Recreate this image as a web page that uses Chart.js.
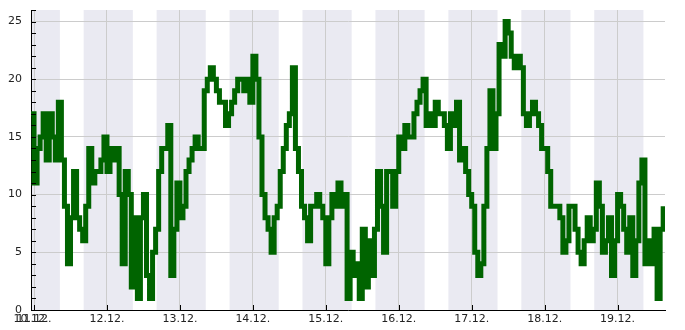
<!DOCTYPE html>
<html lang="en">
<head>
  <meta charset="UTF-8">
  <title>Temperatur</title>
  <script src="https://cdn.jsdelivr.net/npm/chart.js"></script>
  <style>
    html, body { margin: 0; padding: 0; background: #fff; }
  </style>
</head>
<body>
  <canvas id="tempChart" width="685" height="330"></canvas>

  <script>
    // time axis in hours, counted from 10.12. 00:00
    const firstHour = 23;
    const lastHour = 231.6;

    // one reading per hour, from 10.12. 23:00
    const values = [
      17, 11, 14, 15, 17, 13, 17, 15, 13, 18, 13, 9, 4, 8, 12, 8, 7, 6, 9, 14,
      11, 12, 12, 13, 15, 12, 14, 13, 14, 10, 4, 12, 10, 2, 8,
      1, 8, 10, 3, 1, 5, 7, 12, 14, 14, 16, 3, 7, 11, 8, 9, 12, 13, 14, 15,
      14, 14, 19, 20, 21, 20, 19, 18, 18, 16, 17, 18, 19, 20, 20,
      19, 20, 18, 22, 20, 15, 10, 8, 7, 5, 8, 9, 12, 14, 16, 17, 21, 14, 12, 9,
      8, 6, 9, 9, 10, 9, 8, 4, 8, 10, 9, 11, 9, 10,
      1, 5, 3, 4, 1, 7, 2, 6, 3, 7, 12, 9, 5, 12, 12, 9, 12, 15, 14, 16,
      15, 15, 17, 18, 19, 20, 16, 17, 16, 18, 17, 17, 16, 14, 17,
      16, 18, 13, 14, 12, 10, 9, 5, 3, 4, 9, 14, 19, 14, 17, 23, 22, 25, 24, 22,
      21, 22, 21, 17, 16, 17, 18, 17, 16, 14, 14, 12, 9, 9,
      9, 8, 5, 6, 9, 9, 7, 5, 4, 6, 8, 6, 7, 11, 9, 5, 6, 8, 3, 6,
      10, 9, 7, 5, 8, 3, 6, 11, 13, 4, 6, 4, 7, 1, 7, 9
    ];

    const dayTicks = [23, 24, 48, 72, 96, 120, 144, 168, 192, 216];
    const dayLabels = ["10.12.", "11.12.", "12.12.", "13.12.", "14.12.", "15.12.", "16.12.", "17.12.", "18.12.", "19.12."];
    const yTicks = [0, 5, 10, 15, 20, 25];

    // dark hours (about 16:20 to 08:30)
    const nightStarts = [16.33, 40.33, 64.33, 88.33, 112.33, 136.33, 160.33, 184.33, 208.33];
    const nightEnds = [32.5, 56.5, 80.5, 104.5, 128.5, 152.5, 176.5, 200.5, 224.5];

    const points = values.map((v, i) => ({ x: firstHour + i, y: v }));

    const nightBands = {
      id: "nightBands",
      beforeDraw(chart) {
        const { ctx, chartArea: a, scales: { x } } = chart;
        ctx.save();
        ctx.beginPath();
        ctx.rect(a.left, a.top, a.right - a.left, a.bottom - a.top);
        ctx.clip();
        ctx.fillStyle = "#eaeaf2";
        nightStarts.forEach((s, i) => {
          const x1 = x.getPixelForValue(s);
          const x2 = x.getPixelForValue(nightEnds[i]);
          ctx.fillRect(x1, a.top, x2 - x1, a.bottom - a.top);
        });
        ctx.restore();
      }
    };

    // small tick marks pointing into the plot
    const innerTicks = {
      id: "innerTicks",
      afterDraw(chart) {
        const { ctx, chartArea: a, scales: { x, y } } = chart;
        ctx.save();
        ctx.strokeStyle = "#000";
        ctx.lineWidth = 1;
        ctx.beginPath();
        for (let v = 0; v <= 26; v++) {
          const py = Math.round(y.getPixelForValue(v)) + 0.5;
          ctx.moveTo(a.left, py);
          ctx.lineTo(a.left + 5, py);
        }
        dayTicks.forEach(t => {
          const px = Math.round(x.getPixelForValue(t)) + 0.5;
          ctx.moveTo(px, a.bottom);
          ctx.lineTo(px, a.bottom - 5);
        });
        ctx.stroke();
        ctx.restore();
      }
    };

    const font = { family: "DejaVu Sans", size: 11 };

    new Chart(document.getElementById("tempChart"), {
      type: "line",
      data: {
        datasets: [{
          data: points,
          borderColor: "#006400",
          borderWidth: 5,
          stepped: true,
          pointRadius: 0,
          fill: false
        }]
      },
      options: {
        responsive: false,
        animation: false,
        devicePixelRatio: 1,
        layout: { padding: { top: 10, right: 20, left: 0, bottom: 0 } },
        plugins: { legend: { display: false }, tooltip: { enabled: false } },
        scales: {
          x: {
            type: "linear",
            min: firstHour,
            max: lastHour,
            afterBuildTicks: s => { s.ticks = dayTicks.map(v => ({ value: v })); },
            afterFit: s => {
              s.height = 20;
              s.paddingLeft = 0;
              s.paddingRight = 0;
            },
            ticks: {
              autoSkip: false,
              maxRotation: 0,
              padding: 3,
              color: "#222",
              font: font,
              callback: (v, i) => dayLabels[i]
            },
            grid: {
              color: c => (c.tick && c.tick.value === firstHour) ? "rgba(0,0,0,0)" : "#cccccc",
              drawTicks: false
            },
            border: { color: "#000", width: 1 }
          },
          y: {
            min: 0,
            max: 26,
            afterBuildTicks: s => { s.ticks = yTicks.map(v => ({ value: v })); },
            afterFit: s => {
              s.width = 31;
              s.paddingTop = 0;
              s.paddingBottom = 0;
            },
            ticks: { padding: 9, color: "#222", font: font },
            grid: { color: "#cccccc", drawTicks: false },
            border: { color: "#000", width: 1 }
          }
        }
      },
      plugins: [nightBands, innerTicks]
    });
  </script>
</body>
</html>
